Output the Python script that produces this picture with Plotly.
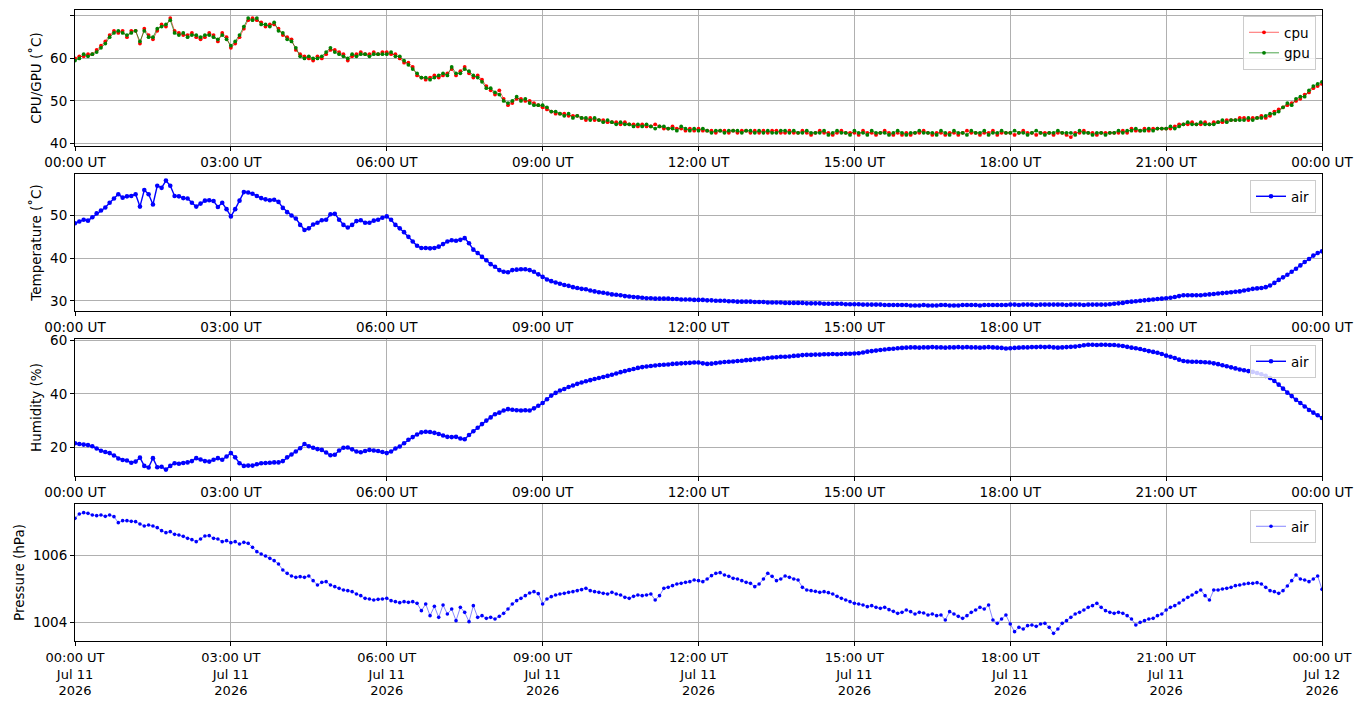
import pandas as pd
import plotly.graph_objects as go

# ---------------- data (5-minute samples, 00:00 -> 24:00 UT, Jul 11 2026) ----------------
start_time = "2026-07-11 00:00"
step = "5min"

cpu = [
    60.0, 60.5, 60.5, 61.0, 61.0, 62.0, 63.0, 64.0, 65.5, 66.5, 66.0, 66.5,
    65.0, 66.5, 66.5, 63.5, 67.0, 65.5, 64.5, 66.5, 68.0, 67.5, 69.5, 66.5,
    66.0, 65.5, 65.5, 66.0, 65.0, 64.5, 65.0, 66.0, 65.5, 64.0, 66.0, 65.0,
    62.5, 63.5, 65.0, 67.0, 69.0, 69.5, 69.0, 68.5, 67.5, 68.0, 68.0, 67.0,
    65.5, 65.0, 64.5, 62.0, 61.0, 60.5, 60.0, 59.5, 60.5, 60.0, 61.0, 62.0,
    62.0, 61.5, 61.0, 59.5, 60.5, 61.0, 61.5, 61.0, 61.0, 61.5, 61.0, 61.5,
    61.5, 61.0, 61.0, 60.0, 59.0, 59.0, 58.0, 56.0, 55.5, 55.0, 55.5, 56.0,
    55.5, 56.0, 56.5, 57.5, 56.0, 57.0, 58.0, 56.5, 55.5, 56.0, 55.0, 53.5,
    52.5, 51.5, 52.5, 50.5, 49.0, 49.5, 50.5, 50.5, 50.0, 50.0, 49.5, 49.0,
    48.5, 48.0, 47.5, 47.0, 47.0, 47.0, 46.5, 46.5, 46.5, 46.0, 45.5, 46.0,
    45.5, 45.5, 45.5, 45.0, 45.0, 45.0, 44.5, 45.0, 44.5, 44.5, 44.0, 44.5,
    44.0, 44.0, 44.5, 44.0, 43.5, 43.5, 44.0, 43.5, 43.5, 43.0, 43.5, 43.0,
    43.5, 43.0, 43.0, 43.0, 42.5, 43.0, 43.0, 42.5, 43.0, 42.5, 43.0, 43.0,
    42.5, 43.0, 42.5, 43.0, 42.5, 43.0, 43.0, 42.5, 42.5, 43.0, 42.5, 42.5,
    43.0, 42.5, 42.0, 42.5, 43.0, 42.5, 42.5, 42.0, 42.5, 43.0, 42.5, 42.5,
    42.5, 42.0, 43.0, 42.5, 42.5, 42.0, 42.5, 43.0, 42.5, 42.0, 42.5, 42.0,
    42.5, 42.0, 42.5, 42.5, 43.0, 42.5, 42.0, 42.5, 42.5, 42.0, 42.5, 42.5,
    42.0, 42.5, 43.0, 42.5, 42.5, 42.0, 42.5, 42.5, 43.0, 42.0, 42.5, 42.5,
    42.5, 42.0, 42.5, 43.0, 42.5, 42.5, 42.0, 42.5, 42.5, 42.5, 42.0, 42.5,
    42.5, 42.0, 41.5, 42.5, 42.5, 43.0, 42.5, 42.5, 42.0, 42.5, 42.5, 42.5,
    42.5, 42.5, 43.0, 42.5, 43.5, 43.0, 43.0, 43.5, 43.0, 43.5, 43.5, 43.5,
    43.5, 43.5, 44.0, 44.5, 44.5, 44.5, 45.0, 44.5, 44.5, 45.0, 44.5, 45.0,
    45.0, 45.0, 45.5, 45.5, 45.5, 46.0, 46.0, 45.5, 46.0, 46.0, 46.5, 46.0,
    46.5, 47.5, 48.0, 48.5, 49.0, 49.5, 50.0, 50.5, 51.5, 52.0, 53.0, 53.5,
    54.0,
]

gpu = [
    59.5, 60.0, 61.0, 60.5, 61.0, 61.5, 62.5, 63.5, 65.0, 66.0, 66.5, 66.0,
    65.5, 66.0, 66.5, 64.0, 66.5, 65.0, 65.0, 67.0, 67.5, 68.0, 69.0, 66.0,
    65.5, 66.0, 65.0, 65.5, 65.5, 65.0, 65.5, 65.5, 65.0, 64.5, 65.5, 64.5,
    63.0, 64.0, 65.5, 67.5, 69.5, 69.0, 69.5, 68.0, 68.0, 67.5, 68.5, 66.5,
    66.0, 64.5, 64.0, 62.5, 60.5, 60.0, 60.5, 60.0, 60.0, 60.5, 61.5, 62.5,
    61.5, 61.0, 60.5, 60.0, 61.0, 60.5, 61.0, 61.0, 60.5, 61.0, 61.0, 61.0,
    61.0, 61.5, 60.5, 60.5, 59.5, 58.5, 57.5, 56.5, 55.5, 55.5, 55.0, 55.5,
    56.0, 56.5, 56.0, 58.0, 56.5, 56.5, 57.5, 57.0, 56.0, 55.5, 54.5, 53.0,
    53.0, 52.0, 51.5, 50.0, 49.5, 50.0, 51.0, 50.0, 50.5, 49.5, 49.0, 49.0,
    49.0, 48.5, 47.5, 47.5, 47.0, 46.5, 47.0, 46.0, 46.5, 46.0, 46.0, 45.5,
    46.0, 45.5, 45.0, 45.5, 45.0, 44.5, 45.0, 44.5, 44.5, 44.0, 44.5, 44.0,
    44.5, 44.0, 43.5, 44.0, 44.0, 43.5, 43.5, 43.0, 44.0, 43.5, 43.0, 43.5,
    43.0, 43.5, 43.0, 42.5, 43.0, 43.0, 42.5, 43.0, 43.0, 43.0, 42.5, 43.0,
    43.0, 42.5, 43.0, 42.5, 43.0, 42.5, 42.5, 43.0, 43.0, 42.5, 43.0, 42.5,
    42.5, 43.0, 42.5, 42.5, 42.5, 43.0, 42.0, 42.5, 43.0, 42.5, 42.5, 42.0,
    43.0, 42.5, 42.5, 42.0, 43.0, 42.5, 42.5, 42.5, 42.0, 42.5, 43.0, 42.5,
    42.0, 42.5, 42.5, 43.0, 42.5, 42.5, 42.5, 42.0, 43.0, 42.5, 42.0, 43.0,
    42.5, 42.5, 42.0, 43.0, 42.5, 42.5, 43.0, 42.0, 42.5, 42.5, 43.0, 42.5,
    42.5, 43.0, 42.5, 42.5, 42.0, 42.5, 43.0, 42.5, 42.0, 42.5, 42.5, 43.0,
    42.5, 42.5, 42.5, 42.0, 43.0, 42.5, 42.5, 42.0, 42.5, 42.5, 42.0, 42.5,
    42.5, 43.0, 42.5, 43.0, 43.0, 43.5, 43.0, 43.0, 43.5, 43.0, 43.5, 43.5,
    43.5, 44.0, 43.5, 44.0, 44.5, 45.0, 44.5, 44.5, 45.0, 44.5, 44.5, 44.5,
    45.0, 45.5, 45.0, 45.5, 45.5, 45.5, 45.5, 46.0, 45.5, 46.0, 46.0, 46.5,
    47.0, 47.0, 47.5, 48.5, 49.5, 49.0, 50.5, 51.0, 51.0, 52.5, 53.5, 54.0,
    54.5,
]

air_temp = [
    48.2, 48.6, 49.0, 48.8, 49.6, 50.5, 51.2, 51.9, 53.0, 54.0, 55.0, 54.2,
    54.5, 54.6, 55.0, 52.1, 56.0, 55.0, 52.6, 57.0, 56.5, 58.2, 57.0, 54.6,
    54.5, 54.1, 54.0, 53.0, 52.1, 52.8, 53.5, 53.6, 53.4, 52.0, 53.0, 51.5,
    49.8, 51.5, 53.5, 55.5, 55.4, 55.1, 54.6, 54.1, 53.8, 53.6, 53.7, 53.2,
    51.8, 50.8, 50.0, 49.3, 47.8, 46.6, 47.0, 47.9, 48.3, 48.9, 49.0, 50.3,
    50.4, 49.0, 47.8, 47.2, 47.8, 48.7, 48.9, 48.3, 48.3, 48.8, 49.0, 49.5,
    49.8, 49.0, 47.8, 47.0, 46.1, 45.0, 43.9, 42.9, 42.4, 42.4, 42.3, 42.4,
    42.7, 43.3, 43.9, 44.2, 44.1, 44.3, 44.7, 43.5, 42.0, 41.2, 40.3, 39.5,
    38.6, 38.0, 37.2, 36.8, 36.7, 37.2, 37.3, 37.4, 37.4, 37.2, 36.8, 36.2,
    35.6, 35.0, 34.6, 34.3, 34.0, 33.7, 33.5, 33.2, 33.0, 32.8, 32.7, 32.4,
    32.2, 32.0, 31.9, 31.7, 31.5, 31.4, 31.3, 31.1, 31.0, 30.9, 30.8, 30.7,
    30.6, 30.6, 30.5, 30.5, 30.5, 30.5, 30.4, 30.4, 30.3, 30.3, 30.3, 30.2,
    30.2, 30.2, 30.1, 30.1, 30.0, 30.0, 30.0, 29.9, 29.9, 29.8, 29.8, 29.8,
    29.8, 29.7, 29.7, 29.7, 29.6, 29.6, 29.6, 29.6, 29.5, 29.5, 29.5, 29.5,
    29.5, 29.4, 29.4, 29.4, 29.4, 29.3, 29.3, 29.3, 29.3, 29.3, 29.2, 29.2,
    29.2, 29.2, 29.1, 29.1, 29.1, 29.1, 29.1, 29.0, 29.0, 29.0, 29.0, 29.0,
    29.0, 28.9, 28.9, 28.9, 29.0, 28.9, 28.9, 28.9, 29.0, 29.0, 28.9, 28.9,
    28.9, 29.0, 29.0, 29.0, 29.0, 28.9, 29.0, 29.0, 29.0, 29.0, 29.0, 29.0,
    29.1, 29.1, 29.0, 29.1, 29.1, 29.1, 29.0, 29.1, 29.1, 29.1, 29.1, 29.1,
    29.1, 29.0, 29.1, 29.1, 29.1, 29.0, 29.1, 29.1, 29.1, 29.1, 29.1, 29.2,
    29.3, 29.4, 29.5, 29.7, 29.8, 29.9, 30.0, 30.1, 30.2, 30.3, 30.4, 30.5,
    30.6, 30.7, 30.9, 31.1, 31.3, 31.3, 31.3, 31.3, 31.3, 31.4, 31.5, 31.6,
    31.7, 31.8, 31.9, 32.0, 32.1, 32.2, 32.4, 32.6, 32.8, 32.9, 33.0, 33.2,
    33.6, 34.2, 34.9, 35.5, 36.1, 36.8, 37.5, 38.3, 39.1, 39.8, 40.6, 41.2,
    41.6,
]

air_humidity = [
    21.5, 21.2, 21.0, 20.8, 20.4, 19.5, 18.7, 18.2, 17.8, 16.9, 15.8, 15.2,
    15.0, 14.2, 14.6, 16.1, 13.0, 12.4, 15.9, 12.5, 12.7, 11.6, 13.0, 14.0,
    13.8, 14.1, 14.3, 14.8, 15.9, 15.4, 14.8, 14.6, 15.3, 15.9, 15.3, 16.5,
    17.8, 16.2, 14.0, 13.0, 13.1, 13.1, 13.6, 14.0, 14.1, 14.2, 14.3, 14.3,
    14.8, 16.2, 17.3, 18.4, 19.6, 21.2, 20.4, 19.8, 19.3, 19.0, 18.0, 17.0,
    17.2, 18.8, 19.8, 19.9, 19.2, 18.4, 18.1, 18.6, 19.0, 18.8, 18.6, 18.2,
    17.8, 18.4, 19.5, 20.3, 21.5, 22.8, 23.8, 24.8, 25.6, 25.8, 25.7, 25.4,
    25.0, 24.4, 23.9, 23.8, 23.9, 23.3, 23.0, 24.6, 26.0, 27.3, 28.7, 30.0,
    31.2, 32.4, 33.0, 33.8, 34.3, 34.1, 33.9, 33.8, 33.9, 33.8, 34.6, 35.6,
    36.6, 38.0, 39.4, 40.4, 41.3, 41.9, 42.6, 43.2, 43.8, 44.3, 44.8, 45.2,
    45.6, 46.0, 46.4, 46.8, 47.2, 47.7, 48.2, 48.6, 49.0, 49.4, 49.8, 50.1,
    50.3, 50.5, 50.7, 50.9, 51.0, 51.1, 51.3, 51.4, 51.5, 51.6, 51.7, 51.8,
    51.8, 51.5, 51.3, 51.4, 51.6, 51.8, 52.0, 52.1, 52.2, 52.4, 52.5, 52.7,
    52.8, 53.0, 53.1, 53.3, 53.5, 53.7, 53.8, 54.0, 54.0, 54.1, 54.3, 54.4,
    54.6, 54.7, 54.7, 54.8, 54.8, 54.9, 54.9, 55.0, 54.9, 55.0, 55.1, 55.1,
    55.2, 55.3, 55.6, 55.9, 56.1, 56.3, 56.5, 56.7, 56.9, 57.0, 57.2, 57.3,
    57.4, 57.5, 57.5, 57.4, 57.5, 57.5, 57.6, 57.5, 57.5, 57.4, 57.5, 57.5,
    57.6, 57.5, 57.6, 57.5, 57.5, 57.4, 57.5, 57.6, 57.5, 57.4, 57.3, 57.1,
    57.2, 57.3, 57.4, 57.5, 57.5, 57.6, 57.6, 57.7, 57.6, 57.7, 57.5, 57.4,
    57.5, 57.6, 57.7, 57.8, 58.0, 58.3, 58.5, 58.5, 58.4, 58.5, 58.5, 58.4,
    58.4, 58.2, 58.0, 57.7, 57.4, 57.2, 56.9, 56.5, 56.1, 55.8, 55.5, 55.0,
    54.4, 54.0, 53.5, 52.9, 52.4, 52.2, 52.1, 52.1, 52.0, 51.9, 51.8, 51.5,
    51.2, 50.8, 50.4, 50.0, 49.6, 49.2, 48.9, 48.6, 48.3, 47.9, 47.4, 46.8,
    46.0, 44.9, 43.5, 42.0, 40.5, 39.2, 37.8, 36.6, 35.3, 34.0, 33.0, 32.0,
    31.0,
]

air_pressure = [
    1007.12, 1007.25, 1007.29, 1007.27, 1007.22, 1007.20, 1007.22, 1007.18, 1007.22, 1007.17, 1006.99, 1007.05,
    1007.05, 1007.03, 1007.02, 1006.95, 1006.89, 1006.92, 1006.89, 1006.84, 1006.75, 1006.69, 1006.72, 1006.64,
    1006.62, 1006.58, 1006.52, 1006.48, 1006.42, 1006.50, 1006.59, 1006.60, 1006.52, 1006.50, 1006.42, 1006.45,
    1006.39, 1006.42, 1006.35, 1006.40, 1006.37, 1006.25, 1006.12, 1006.05, 1005.99, 1005.92, 1005.85, 1005.75,
    1005.57, 1005.47, 1005.39, 1005.35, 1005.37, 1005.35, 1005.39, 1005.25, 1005.12, 1005.20, 1005.22, 1005.12,
    1005.07, 1005.02, 1004.97, 1004.95, 1004.92, 1004.85, 1004.80, 1004.72, 1004.70, 1004.67, 1004.69, 1004.70,
    1004.72, 1004.65, 1004.62, 1004.59, 1004.62, 1004.60, 1004.62, 1004.57, 1004.35, 1004.55, 1004.20, 1004.48,
    1004.15, 1004.52, 1004.25, 1004.40, 1004.05, 1004.45, 1004.30, 1004.02, 1004.50, 1004.15, 1004.20, 1004.12,
    1004.15, 1004.10, 1004.18, 1004.27, 1004.40, 1004.55, 1004.65, 1004.72, 1004.80, 1004.88, 1004.92, 1004.86,
    1004.55, 1004.70, 1004.77, 1004.82, 1004.85, 1004.87, 1004.90, 1004.92, 1004.95, 1004.98, 1005.02, 1004.95,
    1004.92, 1004.90, 1004.87, 1004.85, 1004.90, 1004.85, 1004.82, 1004.75, 1004.72, 1004.78, 1004.82, 1004.80,
    1004.82, 1004.85, 1004.67, 1004.80, 1005.02, 1005.05, 1005.10, 1005.15, 1005.17, 1005.20, 1005.22, 1005.27,
    1005.25, 1005.22, 1005.30, 1005.40, 1005.47, 1005.49, 1005.42, 1005.38, 1005.32, 1005.30, 1005.25, 1005.20,
    1005.17, 1005.07, 1005.15, 1005.30, 1005.47, 1005.38, 1005.25, 1005.30, 1005.39, 1005.35, 1005.30, 1005.27,
    1005.05, 1004.97, 1004.95, 1004.93, 1004.90, 1004.92, 1004.89, 1004.85, 1004.78, 1004.72, 1004.67, 1004.62,
    1004.57, 1004.55, 1004.52, 1004.47, 1004.50, 1004.45, 1004.42, 1004.45, 1004.38, 1004.33, 1004.27, 1004.30,
    1004.37, 1004.32, 1004.25, 1004.30, 1004.28, 1004.22, 1004.25, 1004.20, 1004.22, 1004.07, 1004.32, 1004.25,
    1004.18, 1004.12, 1004.20, 1004.30, 1004.37, 1004.45, 1004.40, 1004.52, 1004.07, 1003.97, 1004.10, 1004.22,
    1003.95, 1003.72, 1003.85, 1003.80, 1003.90, 1003.92, 1003.88, 1003.95, 1003.97, 1003.85, 1003.67, 1003.80,
    1003.97, 1004.05, 1004.15, 1004.25, 1004.30, 1004.37, 1004.45, 1004.50, 1004.57, 1004.45, 1004.35, 1004.30,
    1004.27, 1004.30, 1004.27, 1004.20, 1004.10, 1003.92, 1004.00, 1004.05, 1004.10, 1004.12, 1004.20, 1004.25,
    1004.37, 1004.45, 1004.50, 1004.58, 1004.67, 1004.75, 1004.82, 1004.90, 1004.97, 1004.80, 1004.67, 1004.97,
    1004.97, 1005.00, 1005.02, 1005.05, 1005.10, 1005.12, 1005.15, 1005.17, 1005.17, 1005.19, 1005.15, 1005.05,
    1004.95, 1004.92, 1004.87, 1004.95, 1005.09, 1005.25, 1005.42, 1005.30, 1005.27, 1005.22, 1005.30, 1005.39,
    1004.99,
]

tick_times = [
    "2026-07-11 00:00", "2026-07-11 03:00", "2026-07-11 06:00", "2026-07-11 09:00",
    "2026-07-11 12:00", "2026-07-11 15:00", "2026-07-11 18:00", "2026-07-11 21:00",
    "2026-07-12 00:00",
]
tick_labels = ["00:00 UT", "03:00 UT", "06:00 UT", "09:00 UT", "12:00 UT",
               "15:00 UT", "18:00 UT", "21:00 UT", "00:00 UT"]
tick_dates = ["Jul 11", "Jul 11", "Jul 11", "Jul 11", "Jul 11",
              "Jul 11", "Jul 11", "Jul 11", "Jul 12"]
tick_years = ["2026"] * 9

# ---------------- figure ----------------
def times_for(values):
    return pd.date_range(start_time, periods=len(values), freq=step)

FONT = "DejaVu Sans"
FS = 13.5
OFF = 8                      # default page body margin
W, H = 1363 - 2 * OFF, 707 - 2 * OFF
# plot area in window pixels: x 75..1322, y 10..641
PL, PR, PT, PB = 75, 1322, 10, 641
ML, MR, MT, MB = PL - OFF, W - (PR - OFF), PT - OFF, H - (PB - OFF)
plot_h = H - MT - MB
plot_w = W - ML - MR

def ypaper(py):
    return (PB - py) / plot_h

domains = [[ypaper(146), ypaper(10)], [ypaper(311), ypaper(174)],
           [ypaper(476), ypaper(339)], [ypaper(641), ypaper(504)]]
yranges = [[39.4, 71.4], [27.6, 59.75], [9.2, 60.65], [1003.44, 1007.55]]
ytickvals = [[40, 50, 60, 70], [30, 40, 50], [20, 40, 60], [1004, 1006]]
ytitles = ["CPU/GPU (˚C)", "Temperature (˚C)", "Humidity (%)", "Pressure (hPa)"]

fig = go.Figure()

def add(values, name, color, line_color, axis_i, legend, lw, ms):
    fig.add_trace(go.Scatter(
        x=times_for(values), y=values, name=name, mode="lines+markers",
        line=dict(color=line_color, width=lw),
        marker=dict(color=color, size=ms, line=dict(width=0)),
        xaxis="x" if axis_i == 1 else f"x{axis_i}",
        yaxis="y" if axis_i == 1 else f"y{axis_i}",
        legend=legend,
    ))

add(cpu, "cpu", "#ff0000", "rgba(255,0,0,0.6)", 1, "legend", 1.0, 3.8)
add(gpu, "gpu", "#008000", "rgba(0,128,0,0.7)", 1, "legend", 1.0, 3.8)
add(air_temp, "air", "#0000ff", "#0000ff", 2, "legend2", 1.4, 4.6)
add(air_humidity, "air", "#0000ff", "#0000ff", 3, "legend3", 1.4, 4.6)
add(air_pressure, "air", "#0000ff", "rgba(0,0,255,0.6)", 4, "legend4", 0.8, 3.6)

layout = dict(
    width=W, height=H,
    margin=dict(l=ML, r=MR, t=MT, b=MB, autoexpand=False),
    paper_bgcolor="white", plot_bgcolor="white",
    font=dict(family=FONT, size=FS, color="black"),
    showlegend=True,
)

axis_common = dict(
    showline=True, linecolor="black", linewidth=1, mirror=True,
    ticks="outside", ticklen=4, tickwidth=1, tickcolor="black",
    showgrid=True, gridcolor="#b0b0b0", gridwidth=1,
    zeroline=False, tickfont=dict(family=FONT, size=FS, color="black"),
)

for i in range(4):
    xn = "xaxis" if i == 0 else f"xaxis{i+1}"
    yn = "yaxis" if i == 0 else f"yaxis{i+1}"
    suffix = "" if i == 0 else str(i + 1)
    if i < 3:
        ttext = tick_labels
        tfont = dict(family=FONT, size=FS, color="black")
    else:
        ttext = [f"{a}<br>{b}<br>{c}" for a, b, c in zip(tick_labels, tick_dates, tick_years)]
        tfont = dict(family=FONT, size=13, color="black")
    layout[xn] = dict(
        axis_common, type="date",
        range=[tick_times[0], tick_times[-1]],
        tickvals=tick_times, ticktext=ttext, tickfont=tfont,
        domain=[0, 1], anchor="y" + suffix,
    )
    layout[yn] = dict(
        axis_common, range=yranges[i], tickvals=ytickvals[i],
        domain=domains[i], anchor="x" + suffix,
        title=dict(text=ytitles[i], font=dict(family=FONT, size=FS, color="black"), standoff=5),
    )

def legend_at(top_px, right_px=1316):
    return dict(
        x=(right_px - PL) / plot_w, xanchor="right",
        y=(PB - top_px) / plot_h, yanchor="top",
        bgcolor="rgba(255,255,255,0.8)", bordercolor="#cccccc", borderwidth=1,
        font=dict(family=FONT, size=FS, color="black"),
        itemwidth=30, tracegroupgap=0,
    )

layout["legend"] = legend_at(16)
layout["legend2"] = legend_at(180)
layout["legend3"] = legend_at(345)
layout["legend4"] = legend_at(510)

fig.update_layout(**layout)
fig.write_html("out.html")
